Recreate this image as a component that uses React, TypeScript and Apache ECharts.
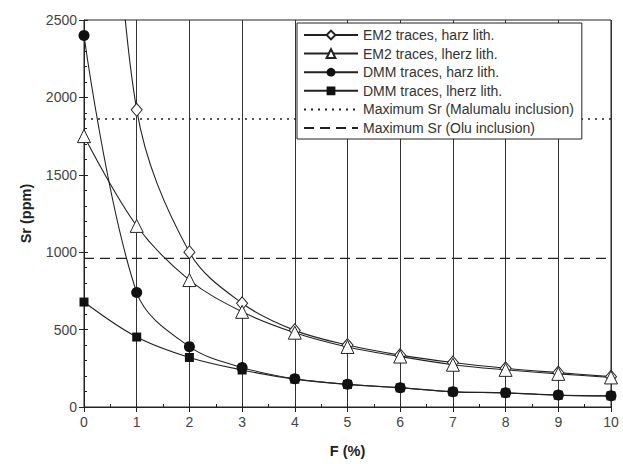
import React, { useEffect, useRef } from "react";
import * as echarts from "echarts";

const fValues = [0, 1, 2, 3, 4, 5, 6, 7, 8, 9, 10];
const em2HarzF = [0.5, 1, 2, 3, 4, 5, 6, 7, 8, 9, 10];
const em2Harz = [4000, 1920, 1000, 670, 495, 400, 335, 287, 250, 222, 196];
const em2Lherz = [1750, 1170, 820, 615, 480, 388, 326, 273, 240, 214, 191];
const dmmHarz = [2400, 740, 390, 255, 182, 147, 125, 99, 92, 77, 72];
const dmmLherz = [678, 452, 320, 239, 180, 146, 124, 98, 91, 76, 72];
const maxSrMalumalu = 1860;
const maxSrOlu = 960;
const seriesNames = [
  "EM2 traces, harz lith.",
  "EM2 traces, lherz lith.",
  "DMM traces, harz lith.",
  "DMM traces, lherz lith.",
  "Maximum Sr (Malumalu inclusion)",
  "Maximum Sr (Olu inclusion)",
];

const INK = "#222";
const FONT = "Liberation Sans, Arial, sans-serif";

export default function App() {
  const ref = useRef<HTMLDivElement>(null);
  useEffect(() => {
    const chart = echarts.init(ref.current!, null, { renderer: "svg" });
    const pair = (xs: number[], ys: number[]) => xs.map((x, i) => [x, ys[i]]);
    const lineBase = {
      type: "line",
      smooth: 0.35,
      clip: true,
      lineStyle: { color: INK, width: 1.1 },
      z: 3,
    };
    const axisCommon = {
      type: "value",
      axisLine: { show: true, lineStyle: { color: INK, width: 1 } },
    };
    chart.setOption({
      animation: false,
      backgroundColor: "#fff",
      grid: { left: 84, right: 12, top: 20, bottom: 57, show: true, borderColor: INK, borderWidth: 1 },
      xAxis: [
        {
          ...axisCommon,
          min: 0,
          max: 10,
          interval: 1,
          name: "F (%)",
          nameLocation: "middle",
          nameGap: 36,
          nameTextStyle: { fontFamily: FONT, fontSize: 14.5, fontWeight: "bold", color: INK },
          axisTick: { show: true, inside: false, length: 5, lineStyle: { color: INK } },
          axisLabel: { fontFamily: FONT, fontSize: 14, color: "#444", margin: 8 },
          splitLine: { show: true, lineStyle: { color: "#333", width: 1 } },
        },
        {
          ...axisCommon,
          position: "bottom",
          min: 0,
          max: 10,
          interval: 1,
          axisLine: { show: false },
          axisLabel: { show: false },
          splitLine: { show: false },
          axisTick: { show: true, inside: true, length: 4, lineStyle: { color: INK } },
          minorTick: { show: true, splitNumber: 2, length: 3, lineStyle: { color: INK } },
        },
      ],
      yAxis: [
        {
          ...axisCommon,
          min: 0,
          max: 2500,
          interval: 500,
          name: "Sr (ppm)",
          nameLocation: "middle",
          nameGap: 51,
          nameTextStyle: { fontFamily: FONT, fontSize: 14.5, fontWeight: "bold", color: INK },
          axisTick: { show: true, inside: false, length: 5, lineStyle: { color: INK } },
          axisLabel: { fontFamily: FONT, fontSize: 14, color: "#444", margin: 7, formatter: (v: number) => String(v) },
          splitLine: { show: false },
        },
        {
          ...axisCommon,
          position: "left",
          min: 0,
          max: 2500,
          interval: 500,
          axisLine: { show: false },
          axisLabel: { show: false },
          splitLine: { show: false },
          axisTick: { show: true, inside: true, length: 4, lineStyle: { color: INK } },
          minorTick: { show: true, splitNumber: 5, length: 3, lineStyle: { color: INK } },
        },
      ],
      legend: {
        orient: "vertical",
        left: 297,
        top: 23,
        width: 298,
        padding: [5, 8, 4, 6],
        itemWidth: 54,
        itemHeight: 11,
        itemGap: 4.6,
        backgroundColor: "#fff",
        borderColor: INK,
        borderWidth: 1,
        borderRadius: 0,
        textStyle: { fontFamily: FONT, fontSize: 14, color: "#333" },
        data: [
          seriesNames[0],
          seriesNames[1],
          seriesNames[2],
          seriesNames[3],
          { name: seriesNames[4], itemStyle: { opacity: 0 } },
          { name: seriesNames[5], itemStyle: { opacity: 0 } },
        ],
        z: 10,
      },
      series: [
        {
          ...lineBase,
          name: seriesNames[0],
          data: pair(em2HarzF, em2Harz),
          symbol: "diamond",
          symbolSize: [11, 13],
          itemStyle: { color: "#fff", borderColor: INK, borderWidth: 1 },
        },
        {
          ...lineBase,
          name: seriesNames[1],
          data: pair(fValues, em2Lherz),
          symbol: "triangle",
          symbolSize: 13,
          itemStyle: { color: "#fff", borderColor: INK, borderWidth: 1 },
        },
        {
          ...lineBase,
          name: seriesNames[2],
          data: pair(fValues, dmmHarz),
          symbol: "circle",
          symbolSize: 11,
          itemStyle: { color: "#111", borderColor: "#111", borderWidth: 0 },
        },
        {
          ...lineBase,
          name: seriesNames[3],
          data: pair(fValues, dmmLherz),
          symbol: "rect",
          symbolSize: 9,
          itemStyle: { color: "#111", borderColor: "#111", borderWidth: 0 },
        },
        {
          type: "line",
          name: seriesNames[4],
          data: [[0, maxSrMalumalu], [10, maxSrMalumalu]],
          symbol: "none",
          lineStyle: { color: INK, width: 1.5, type: [2, 5] },
          itemStyle: { color: INK },
          z: 2,
        },
        {
          type: "line",
          name: seriesNames[5],
          data: [[0, maxSrOlu], [10, maxSrOlu]],
          symbol: "none",
          lineStyle: { color: INK, width: 1.3, type: [10, 6] },
          itemStyle: { color: INK },
          z: 2,
        },
      ],
    });
    return () => chart.dispose();
  }, []);
  return <div ref={ref} style={{ width: 623, height: 464, position: "absolute", left: 0, top: 0 }} />;
}
